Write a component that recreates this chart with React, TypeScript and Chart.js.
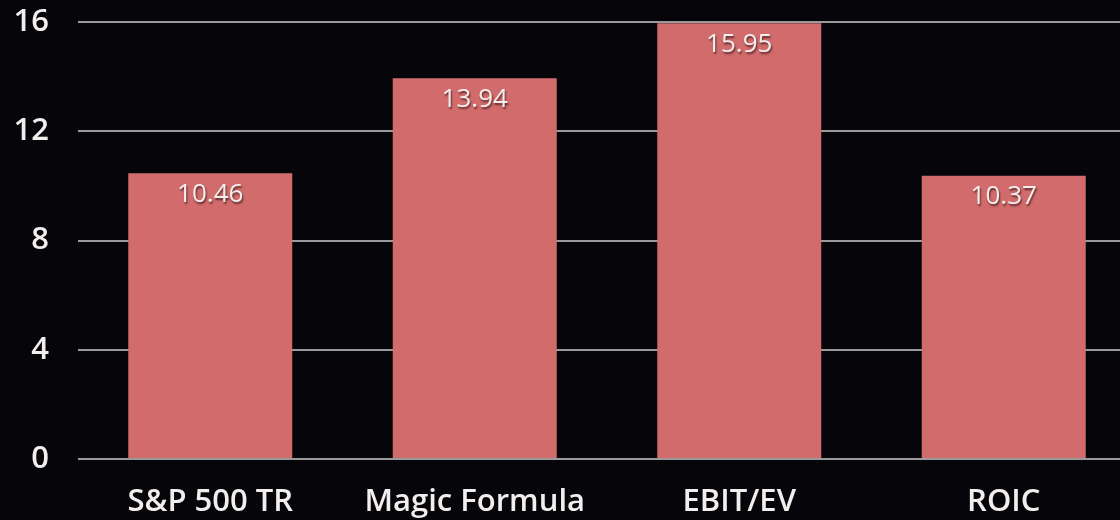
import React, { useEffect, useRef } from "react";
import { Chart, registerables } from "chart.js";

Chart.register(...registerables);

// Annualised returns by strategy
const categories: string[] = ["S&P 500 TR", "Magic Formula", "EBIT/EV", "ROIC"];
const returns: number[] = [10.46, 13.94, 15.95, 10.37];
const yTicks: number[] = [0, 4, 8, 12, 16];

const BAR_COLOR = "#d26c6c";
const GRID_COLOR = "#9a9a9c";
const TEXT_COLOR = "#f2eeee";
const FONT = "'Open Sans', 'Noto Sans', sans-serif";

// Writes each bar's value just inside the top of the bar
const valueLabels = {
  id: "valueLabels",
  afterDatasetsDraw(chart: Chart) {
    const { ctx } = chart;
    const meta = chart.getDatasetMeta(0);
    const data = chart.data.datasets[0].data as number[];
    ctx.save();
    ctx.font = `500 26px ${FONT}`;
    ctx.fillStyle = TEXT_COLOR;
    ctx.textAlign = "center";
    ctx.textBaseline = "middle";
    ctx.shadowColor = "rgba(60,20,20,0.75)";
    ctx.shadowOffsetX = 1;
    ctx.shadowOffsetY = 2;
    ctx.shadowBlur = 2;
    meta.data.forEach((bar: any, i: number) => {
      ctx.fillText(data[i].toFixed(2), bar.x, bar.y + 21);
    });
    ctx.restore();
  },
};

export default function App() {
  const canvasRef = useRef<HTMLCanvasElement | null>(null);

  useEffect(() => {
    if (!canvasRef.current) return;
    const chart = new Chart(canvasRef.current, {
      type: "bar",
      data: {
        labels: categories,
        datasets: [
          {
            data: returns,
            backgroundColor: BAR_COLOR,
            borderWidth: 0,
            categoryPercentage: 0.62,
            barPercentage: 1,
          },
        ],
      },
      options: {
        animation: false,
        responsive: false,
        maintainAspectRatio: false,
        layout: { padding: { top: 22, right: 4, left: 0, bottom: 0 } },
        plugins: {
          legend: { display: false },
          tooltip: { enabled: false },
        },
        scales: {
          x: {
            grid: { display: false },
            border: { display: false },
            ticks: {
              color: TEXT_COLOR,
              padding: 17,
              maxRotation: 0,
              font: { family: FONT, size: 31, weight: 600 as any },
            },
            afterFit(scale: any) {
              scale.height = 61;
              scale.paddingLeft = 0;
              scale.paddingRight = 0;
            },
          },
          y: {
            min: 0,
            max: 16,
            afterBuildTicks(scale: any) {
              scale.ticks = yTicks.map((v) => ({ value: v }));
            },
            grid: {
              color: GRID_COLOR,
              lineWidth: 2,
              drawTicks: false,
            },
            border: { display: false },
            ticks: {
              color: TEXT_COLOR,
              padding: 29,
              font: { family: FONT, size: 31, weight: 600 as any },
            },
            afterFit(scale: any) {
              scale.width = 78;
              scale.paddingTop = 0;
              scale.paddingBottom = 0;
            },
          },
        },
      },
      plugins: [valueLabels],
    });
    return () => chart.destroy();
  }, []);

  return (
    <div
      style={{
        position: "fixed",
        left: 0,
        top: 0,
        width: 1120,
        height: 520,
        overflow: "hidden",
        background: "#060509",
      }}
    >
      <canvas ref={canvasRef} width={1140} height={520} style={{ display: "block" }} />
    </div>
  );
}
